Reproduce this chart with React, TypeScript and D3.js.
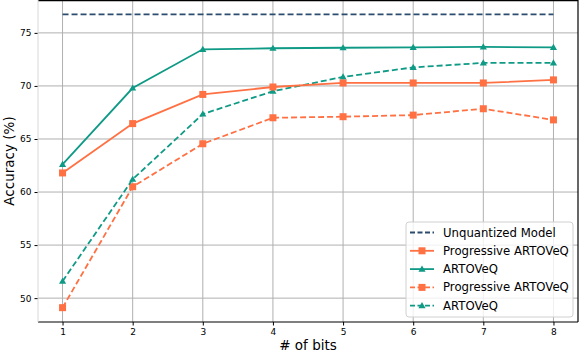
import * as d3 from "d3";
import React, { useEffect, useRef } from "react";

const bits = [1, 2, 3, 4, 5, 6, 7, 8];
const unquantized = 76.75;
const progSolid = [61.8, 66.45, 69.2, 69.9, 70.28, 70.28, 70.28, 70.57];
const artoSolid = [62.6, 69.8, 73.45, 73.55, 73.6, 73.64, 73.68, 73.64];
const progDashed = [49.1, 60.5, 64.55, 67.0, 67.1, 67.25, 67.85, 66.8];
const artoDashed = [51.6, 61.2, 67.35, 69.5, 70.85, 71.75, 72.17, 72.17];
const yTicks = [50, 55, 60, 65, 70, 75];
const legendLabels = [
  "Unquantized Model",
  "Progressive ARTOVeQ",
  "ARTOVeQ",
  "Progressive ARTOVeQ",
  "ARTOVeQ",
];

const ORANGE = "#ff7043";
const TEAL = "#0f9a86";
const NAVY = "#2b4c6f";

const App = () => {
  const svgRef = useRef<SVGSVGElement>(null);

  useEffect(() => {
    const svg = d3.select(svgRef.current);
    svg.selectAll("*").remove();
    const width = 580;
    const height = 354;
    const margin = { top: 0, right: 2, bottom: 32, left: 38 };
    const innerWidth = width - margin.left - margin.right;
    const innerHeight = height - margin.top - margin.bottom;
    const font = "DejaVu Sans, sans-serif";

    const x = d3.scaleLinear().domain([0.65, 8.35]).range([0, innerWidth]);
    const y = d3.scaleLinear().domain([47.75, 78.1]).range([innerHeight, 0]);

    const g = svg
      .append("g")
      .attr("transform", `translate(${margin.left},${margin.top})`);

    // grid
    g.selectAll(".gx")
      .data(bits)
      .enter()
      .append("line")
      .attr("x1", (d) => x(d))
      .attr("x2", (d) => x(d))
      .attr("y1", 0)
      .attr("y2", innerHeight)
      .attr("stroke", "#b0b0b0")
      .attr("stroke-width", 1);
    g.selectAll(".gy")
      .data(yTicks)
      .enter()
      .append("line")
      .attr("x1", 0)
      .attr("x2", innerWidth)
      .attr("y1", (d) => y(d))
      .attr("y2", (d) => y(d))
      .attr("stroke", "#b0b0b0")
      .attr("stroke-width", 1);

    // axes
    const xAxis = g
      .append("g")
      .attr("transform", `translate(0,${innerHeight})`)
      .call(d3.axisBottom(x).tickValues(bits).tickFormat(d3.format("d")).tickSize(3.5).tickPadding(3));
    xAxis.select(".domain").remove();
    xAxis.selectAll("text").attr("font-family", font).attr("font-size", 9).attr("fill", "#000");

    const yAxis = g
      .append("g")
      .call(d3.axisLeft(y).tickValues(yTicks).tickSize(3.5).tickPadding(3));
    yAxis.select(".domain").remove();
    yAxis.selectAll("text").attr("font-family", font).attr("font-size", 9).attr("fill", "#000");

    // spines
    g.append("line").attr("x1", 0).attr("x2", innerWidth).attr("y1", innerHeight).attr("y2", innerHeight).attr("stroke", "#000").attr("stroke-width", 1.2);
    g.append("line").attr("x1", 0).attr("x2", innerWidth).attr("y1", 0.6).attr("y2", 0.6).attr("stroke", "#000").attr("stroke-width", 1.2);
    g.append("line").attr("x1", innerWidth).attr("x2", innerWidth).attr("y1", 0).attr("y2", innerHeight).attr("stroke", "#000").attr("stroke-width", 1.2);
    g.append("line").attr("x1", 0).attr("x2", 0).attr("y1", 0).attr("y2", innerHeight).attr("stroke", "#d8d8d8").attr("stroke-width", 1);

    // labels
    svg
      .append("text")
      .attr("x", margin.left + innerWidth / 2)
      .attr("y", 350)
      .attr("text-anchor", "middle")
      .attr("font-family", font)
      .attr("font-size", 13.5)
      .text("# of bits");
    svg
      .append("text")
      .attr("transform", `translate(14,${innerHeight / 2}) rotate(-90)`)
      .attr("text-anchor", "middle")
      .attr("font-family", font)
      .attr("font-size", 13.5)
      .text("Accuracy (%)");

    const line = d3
      .line<number>()
      .x((_, i) => x(bits[i]))
      .y((d) => y(d));

    // unquantized reference
    g.append("line")
      .attr("x1", x(1))
      .attr("x2", x(8))
      .attr("y1", y(unquantized))
      .attr("y2", y(unquantized))
      .attr("stroke", NAVY)
      .attr("stroke-width", 1.8)
      .attr("stroke-dasharray", "6,3");

    const series = [
      { values: progDashed, color: ORANGE, dash: "6,3", marker: "square" },
      { values: artoDashed, color: TEAL, dash: "6,3", marker: "triangle" },
      { values: progSolid, color: ORANGE, dash: null, marker: "square" },
      { values: artoSolid, color: TEAL, dash: null, marker: "triangle" },
    ];

    const drawMarker = (sel: any, marker: string, color: string, cx: number, cy: number) => {
      if (marker === "square") {
        sel.append("rect").attr("x", cx - 3.5).attr("y", cy - 3.5).attr("width", 7).attr("height", 7).attr("fill", color);
      } else {
        sel.append("path").attr("d", d3.symbol(d3.symbolTriangle, 22)()).attr("transform", `translate(${cx},${cy + 0.5})`).attr("fill", color);
      }
    };

    series.forEach((s) => {
      g.append("path")
        .attr("d", line(s.values))
        .attr("fill", "none")
        .attr("stroke", s.color)
        .attr("stroke-width", 1.8)
        .attr("stroke-dasharray", s.dash);
      s.values.forEach((v, i) => drawMarker(g, s.marker, s.color, x(bits[i]), y(v)));
    });

    // legend
    const lg = svg.append("g").attr("transform", "translate(406,222)");
    lg.append("rect")
      .attr("width", 167)
      .attr("height", 95)
      .attr("rx", 3)
      .attr("fill", "#fff")
      .attr("fill-opacity", 0.8)
      .attr("stroke", "#d0d0d0");
    const legendItems = [
      { color: NAVY, dash: "5,2.5", marker: null },
      { color: ORANGE, dash: null, marker: "square" },
      { color: TEAL, dash: null, marker: "triangle" },
      { color: ORANGE, dash: "5,2.5", marker: "square" },
      { color: TEAL, dash: "5,2.5", marker: "triangle" },
    ];
    legendItems.forEach((it, i) => {
      const ly = 10.5 + i * 18.3;
      lg.append("line")
        .attr("x1", 4)
        .attr("x2", 28)
        .attr("y1", ly)
        .attr("y2", ly)
        .attr("stroke", it.color)
        .attr("stroke-width", 1.8)
        .attr("stroke-dasharray", it.dash);
      if (it.marker) drawMarker(lg, it.marker, it.color, 16, ly);
      lg.append("text")
        .attr("x", 37)
        .attr("y", ly)
        .attr("dy", "0.35em")
        .attr("font-family", font)
        .attr("font-size", 11.7)
        .text(legendLabels[i]);
    });
  }, []);

  return <svg ref={svgRef} width={580} height={354} style={{ position: "absolute", left: 0, top: 0 }}></svg>;
};

export default App;
